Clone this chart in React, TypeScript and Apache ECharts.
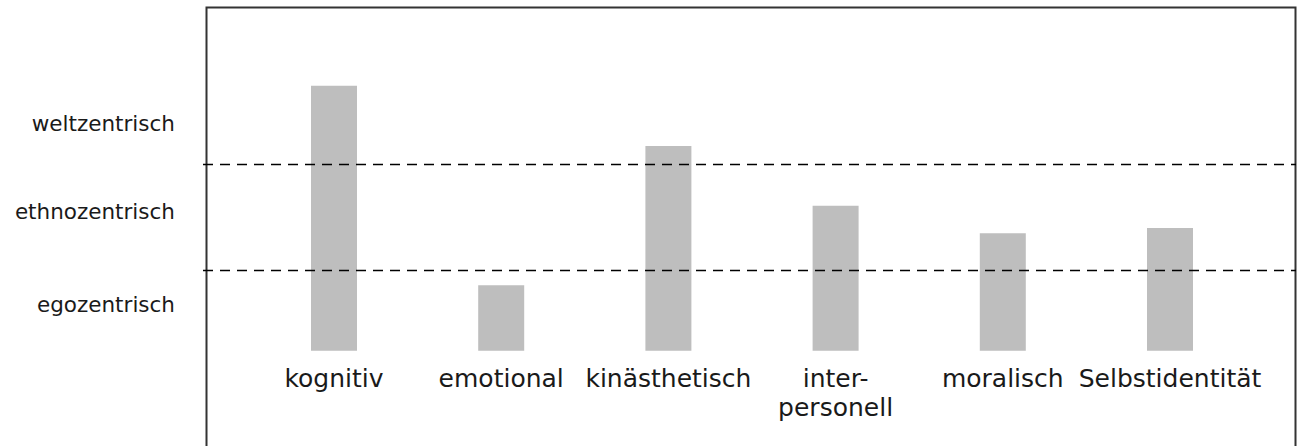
import React, { useEffect, useRef } from "react";
import * as echarts from "echarts";

const categories = ["kognitiv", "emotional", "kinästhetisch", "inter-\npersonell", "moralisch", "Selbstidentität"];
const values = [77.3, 19.1, 59.7, 42.3, 34.3, 35.8];
const levelLabels = ["egozentrisch", "ethnozentrisch", "weltzentrisch"];
const levelLabelValues = [13.6, 40.5, 66.2];
const thresholds = [23.5, 54.5];

const FONT = "'DejaVu Sans', Verdana, sans-serif";

export default function App() {
  const ref = useRef<HTMLDivElement>(null);
  useEffect(() => {
    if (!ref.current) return;
    const chart = echarts.init(ref.current, null, { renderer: "svg" });
    chart.setOption({
      animation: false,
      backgroundColor: "#ffffff",
      grid: { left: 250.4, right: 43.4, top: 8, bottom: 95.3 },
      xAxis: {
        type: "category",
        data: categories,
        axisLine: { show: false },
        axisTick: { show: false },
        splitLine: { show: false },
        axisLabel: {
          interval: 0,
          margin: 13,
          fontFamily: FONT,
          fontSize: 25,
          lineHeight: 29,
          color: "#1a1a1a",
        },
      },
      yAxis: {
        type: "value",
        min: 0,
        max: 100,
        show: false,
        splitLine: { show: false },
      },
      series: [
        {
          type: "bar",
          data: values,
          barWidth: 46,
          itemStyle: { color: "#bebebe" },
          silent: true,
        },
      ],
    });
    const yPix = (v: number) => chart.convertToPixel({ yAxisIndex: 0 }, v) as number;
    const graphic: any[] = [
      {
        type: "rect",
        shape: { x: 206.5, y: 7.5, width: 1089, height: 500 },
        style: { fill: "none", stroke: "#333", lineWidth: 2 },
        z: 10,
      },
    ];
    thresholds.forEach((t) => {
      const y = Math.round(yPix(t)) + 0.5;
      graphic.push({
        type: "line",
        shape: { x1: 203, y1: y, x2: 1296, y2: y },
        style: { stroke: "#000", lineWidth: 1.5, lineDash: [10, 7] },
        z: 10,
      });
    });
    levelLabels.forEach((lab, i) => {
      graphic.push({
        type: "text",
        x: 175,
        y: yPix(levelLabelValues[i]),
        style: {
          text: lab,
          fontFamily: FONT,
          fontSize: 21.5,
          fill: "#1a1a1a",
          align: "right",
          verticalAlign: "middle",
        },
        z: 10,
      });
    });
    chart.setOption({ graphic });
    return () => chart.dispose();
  }, []);
  return (
    <div
      ref={ref}
      style={{ position: "fixed", left: 0, top: 0, width: 1297, height: 446 }}
    />
  );
}
